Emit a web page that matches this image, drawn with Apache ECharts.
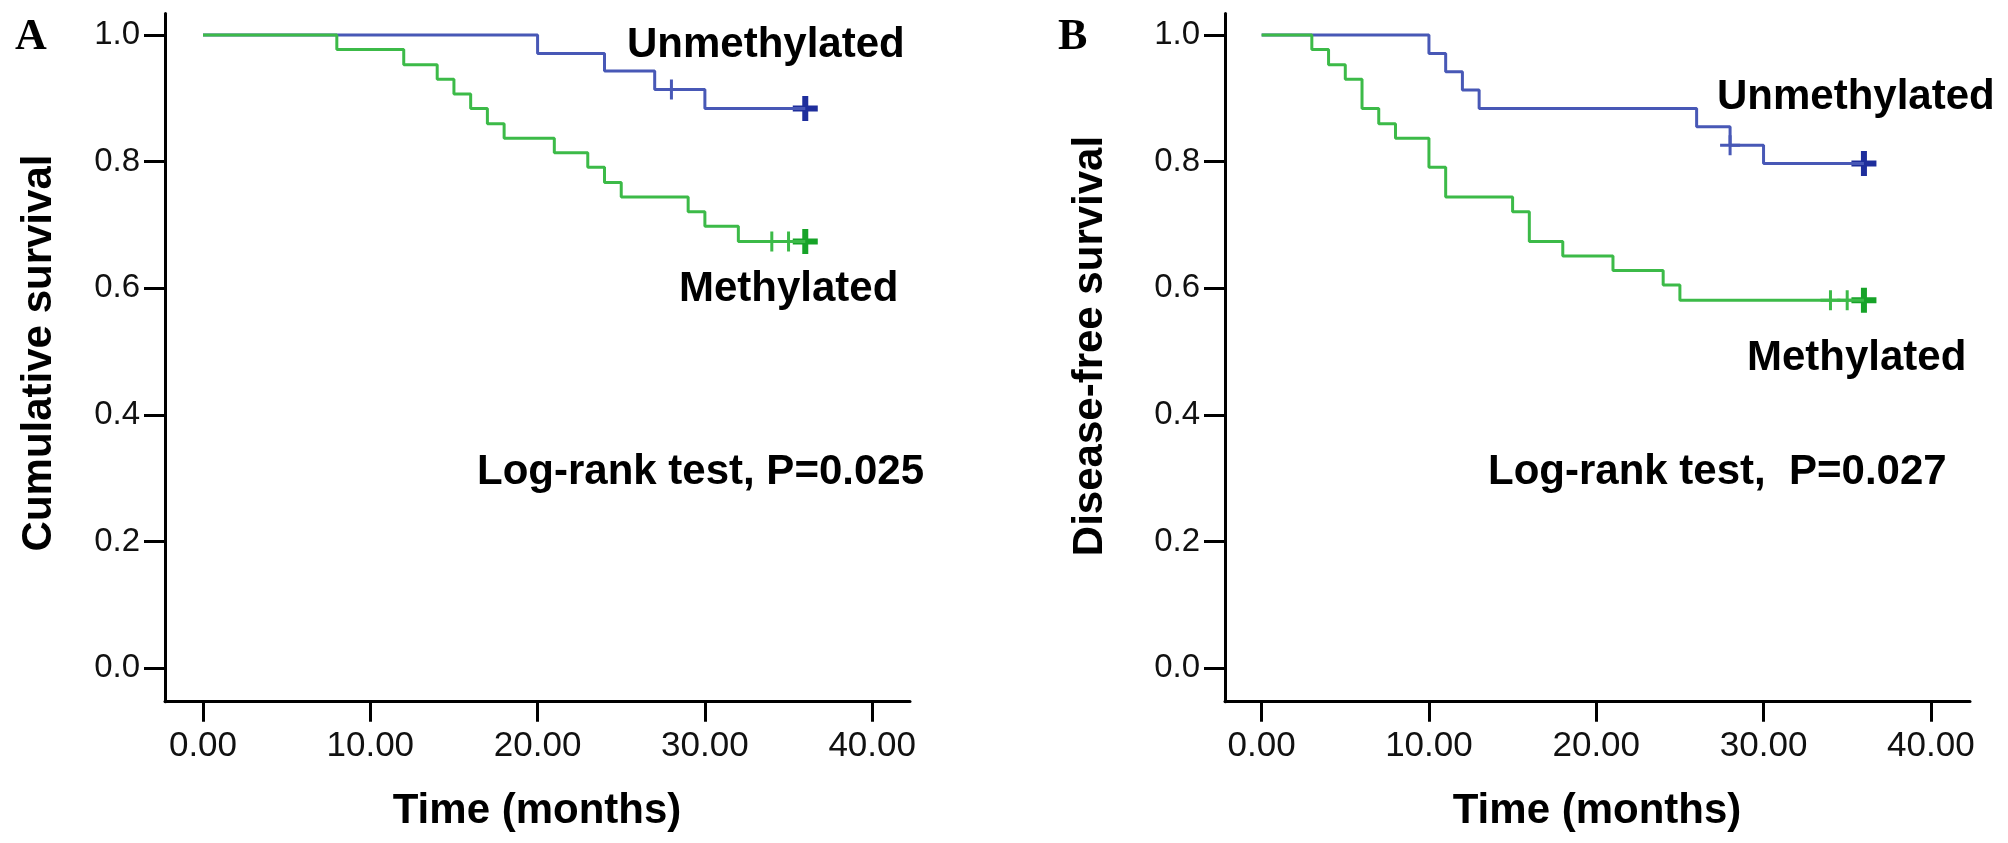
<!DOCTYPE html>
<html>
<head>
<meta charset="utf-8">
<script src="https://cdn.jsdelivr.net/npm/echarts@6/dist/echarts.min.js"></script>
<style>
html,body{margin:0;padding:0;background:#fff;}
#c{width:2008px;height:843px;}
</style>
</head>
<body>
<div id="c"></div>
<script>
// ---- data ----
const xTicks = [0, 10, 20, 30, 40];
const yTicks = [0, 0.2, 0.4, 0.6, 0.8, 1.0];

// Panel A: overall survival
const aUnmethTime = [0, 20, 24, 27, 30, 36];
const aUnmethSurv = [1.0, 0.971, 0.943, 0.914, 0.884, 0.884];
const aUnmethCensor = [28];
const aUnmethLast = [36];

const aMethTime = [0, 8, 12, 14, 15, 16, 17, 18, 21, 23, 24, 25, 29, 30, 32, 36];
const aMethSurv = [1.0, 0.977, 0.953, 0.930, 0.907, 0.884, 0.860, 0.837, 0.814, 0.791, 0.767, 0.744, 0.721, 0.698, 0.674, 0.674];
const aMethCensor = [34, 35];
const aMethLast = [36];

// Panel B: disease-free survival
const bUnmethTime = [0, 10, 11, 12, 13, 26, 28, 30, 36];
const bUnmethSurv = [1.0, 0.971, 0.942, 0.913, 0.884, 0.855, 0.826, 0.797, 0.797];
const bUnmethCensor = [28];
const bUnmethLast = [36];

const bMethTime = [0, 3, 4, 5, 6, 7, 8, 10, 11, 15, 16, 18, 21, 24, 25, 36];
const bMethSurv = [1.0, 0.977, 0.953, 0.930, 0.884, 0.860, 0.837, 0.791, 0.744, 0.721, 0.674, 0.651, 0.628, 0.605, 0.581, 0.581];
const bMethCensor = [34, 35];
const bMethLast = [36];

const labels = {
  panelA: 'A', panelB: 'B',
  yA: 'Cumulative survival', yB: 'Disease-free survival',
  x: 'Time (months)',
  unmeth: 'Unmethylated', meth: 'Methylated',
  testA: 'Log-rank test, P=0.025', testB: 'Log-rank test,  P=0.027'
};

// ---- helpers ----
const BLUE = '#4858b6', BLUE_D = '#1e2e9c';
const GREEN = '#3cba48', GREEN_D = '#16a328';
const pairs = (t, s) => t.map((v, i) => [v, s[i]]);
const survAt = (t, s, x) => { let v = s[0]; for (let i = 0; i < t.length; i++) { if (t[i] <= x) v = s[i]; } return v; };
const thinPlus = 'path://M-1.5,-10h3v8.5h8.5v3h-8.5v8.5h-3v-8.5h-8.5v-3h8.5z';
const thickPlus = 'path://M-3,-12.5h6v9.5h9.5v6h-9.5v9.5h-6v-9.5h-9.5v-6h9.5z';

const SANS = '"Liberation Sans", Arial, Helvetica, sans-serif';

function xAxisCfg(gi, min) {
  return {
    type: 'value', gridIndex: gi, min: min, max: min + 44.53,
    axisLine: { show: true, onZero: false, lineStyle: { color: '#000', width: 3 } },
    axisTick: { show: true, customValues: xTicks, length: 20, lineStyle: { color: '#000', width: 3 } },
    axisLabel: { show: true, customValues: xTicks, margin: 27, color: '#111', fontSize: 35, fontFamily: SANS,
      formatter: v => v.toFixed(2) },
    splitLine: { show: false }
  };
}
function yAxisCfg(gi) {
  return {
    type: 'value', gridIndex: gi, min: -0.0532, max: 1.0340,
    axisLine: { show: true, onZero: false, lineStyle: { color: '#000', width: 3 } },
    axisTick: { show: true, customValues: yTicks, length: 21, lineStyle: { color: '#000', width: 3 } },
    axisLabel: { show: true, customValues: yTicks, margin: 25, color: '#111', fontSize: 33, fontFamily: SANS,
      padding: [18, 0, 0, 0], formatter: v => v.toFixed(1) },
    splitLine: { show: false }
  };
}
function curve(gi, t, s, color) {
  return { type: 'line', xAxisIndex: gi, yAxisIndex: gi, data: pairs(t, s), step: 'end',
    symbol: 'none', lineStyle: { color: color, width: 3 }, animation: false, silent: true };
}
function censor(gi, t, s, times, color, sym, size) {
  return { type: 'scatter', xAxisIndex: gi, yAxisIndex: gi,
    data: times.map(x => [x, survAt(t, s, x)]),
    symbol: sym, symbolSize: size, symbolKeepAspect: true,
    itemStyle: { color: color, opacity: 1 }, animation: false, silent: true };
}
function txt(text, x, y, font, align, rot) {
  return { type: 'text', x: x, y: y, rotation: rot || 0, silent: true,
    style: { text: text, x: 0, y: 0, font: font, fill: '#000',
      align: align || 'left', verticalAlign: 'middle', textAlign: align || 'left', textVerticalAlign: 'middle' } };
}

const BOLD = 'bold 42px ' + SANS;
const SERIF = 'bold 44px "Liberation Serif", "Times New Roman", serif';

const option = {
  backgroundColor: '#fff',
  animation: false,
  grid: [
    { left: 165, top: 13.5, width: 745, height: 688.2 },
    { left: 1225, top: 13.5, width: 745, height: 688.2 }
  ],
  xAxis: [xAxisCfg(0, -2.27), xAxisCfg(1, -2.19)],
  yAxis: [yAxisCfg(0), yAxisCfg(1)],
  series: [
    curve(0, aUnmethTime, aUnmethSurv, BLUE),
    curve(0, aMethTime, aMethSurv, GREEN),
    censor(0, aUnmethTime, aUnmethSurv, aUnmethCensor, BLUE, thinPlus, [20, 20]),
    censor(0, aUnmethTime, aUnmethSurv, aUnmethLast, BLUE_D, thickPlus, [25, 25]),
    censor(0, aMethTime, aMethSurv, aMethCensor, GREEN, thinPlus, [20, 20]),
    censor(0, aMethTime, aMethSurv, aMethLast, GREEN_D, thickPlus, [25, 25]),
    curve(1, bUnmethTime, bUnmethSurv, BLUE),
    curve(1, bMethTime, bMethSurv, GREEN),
    censor(1, bUnmethTime, bUnmethSurv, bUnmethCensor, BLUE, thinPlus, [20, 20]),
    censor(1, bUnmethTime, bUnmethSurv, bUnmethLast, BLUE_D, thickPlus, [25, 25]),
    censor(1, bMethTime, bMethSurv, bMethCensor, GREEN, thinPlus, [20, 20]),
    censor(1, bMethTime, bMethSurv, bMethLast, GREEN_D, thickPlus, [25, 25])
  ],
  graphic: [
    txt(labels.panelA, 15, 38, SERIF, 'left'),
    txt(labels.panelB, 1058, 38, SERIF, 'left'),
    txt(labels.yA, 39, 353, BOLD, 'center', Math.PI / 2),
    txt(labels.yB, 1090, 346, BOLD, 'center', Math.PI / 2),
    txt(labels.x, 537, 811, BOLD, 'center'),
    txt(labels.x, 1597, 811, BOLD, 'center'),
    txt(labels.unmeth, 627, 45, BOLD, 'left'),
    txt(labels.meth, 679, 289, BOLD, 'left'),
    txt(labels.testA, 477, 472, BOLD, 'left'),
    txt(labels.unmeth, 1717, 97, BOLD, 'left'),
    txt(labels.meth, 1747, 358, BOLD, 'left'),
    txt(labels.testB, 1488, 472, BOLD, 'left')
  ]
};

const chart = echarts.init(document.getElementById('c'), null, { renderer: 'canvas' });
chart.setOption(option);
</script>
</body>
</html>
